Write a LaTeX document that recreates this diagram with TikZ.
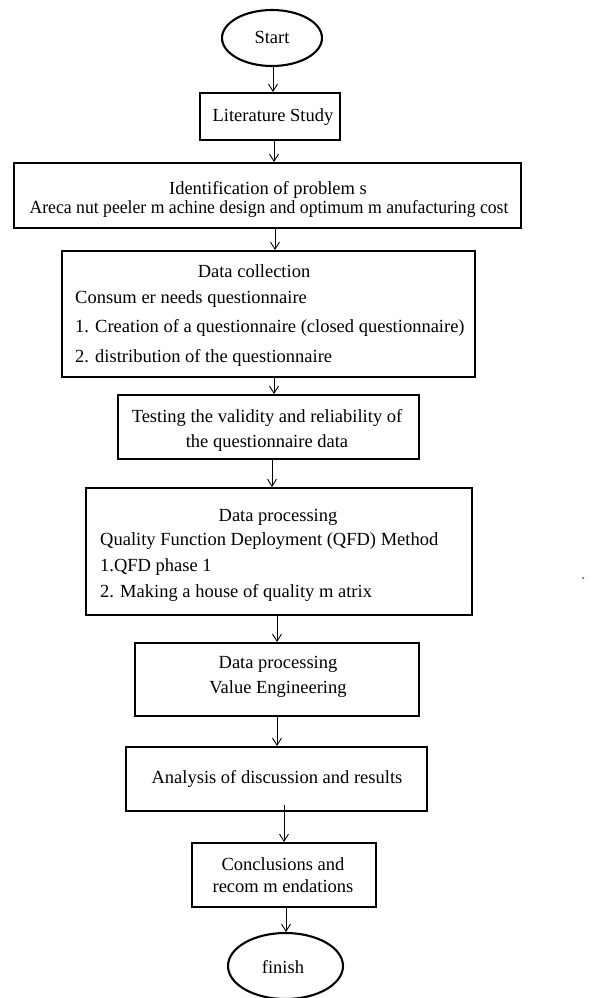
\documentclass[tikz,border=0pt]{standalone}
\usepackage{fontspec}
\setmainfont{Liberation Serif}
\usetikzlibrary{shapes.geometric,arrows.meta}
\begin{document}
\begin{tikzpicture}[x=1pt,y=-1pt,
  box/.style={draw,line width=2.1pt,inner sep=0pt},
  term/.style={draw,ellipse,line width=2.1pt,inner sep=0pt},
  txt/.style={inner sep=0pt,yshift=-3.5pt,font=\fontsize{18.5}{21}\selectfont},
  arr/.style={line width=0.9pt,-{Straight Barb[length=7pt,width=9pt]}}]
\useasboundingbox (0,0) rectangle (600,998);
% shapes
\node[term,minimum width=100pt,minimum height=56pt] (start) at (272,38) {};
\node[box,minimum width=140pt,minimum height=47pt] (lit) at (270,116.5) {};
\node[box,minimum width=507pt,minimum height=65pt] (ident) at (267.5,195.5) {};
\node[box,minimum width=413pt,minimum height=126pt] (dc) at (268.5,314) {};
\node[box,minimum width=301pt,minimum height=64pt] (test) at (268.5,427) {};
\node[box,minimum width=386pt,minimum height=127pt] (dp) at (279,551.5) {};
\node[box,minimum width=284pt,minimum height=73pt] (ve) at (277,679.5) {};
\node[box,minimum width=301pt,minimum height=64pt] (an) at (276.5,779) {};
\node[box,minimum width=184pt,minimum height=64pt] (con) at (284,875) {};
\node[term,minimum width=115pt,minimum height=66pt] (fin) at (285.5,966) {};
% texts
\node[txt,anchor=mid] (tstart) at (272,38) {Start};
\node[txt,anchor=mid] (tlit) at (273,116) {Literature Study};
\node[txt,anchor=mid] (tid1) at (268,189) {Identification of problem s};
\node[txt,anchor=mid] (tid2) at (269,208) {\scalebox{0.955}[1]{Areca nut peeler m achine design and optimum m anufacturing cost}};
\node[txt,anchor=mid] (tdc1) at (254,272) {Data collection};
\node[txt,anchor=mid west] (tdc2) at (75,298) {Consum er needs questionnaire};
\node[txt,anchor=mid west] (tdc3) at (75,327) {1. Creation of a questionnaire (closed questionnaire)};
\node[txt,anchor=mid west] (tdc4) at (75,357) {2. distribution of the questionnaire};
\node[txt,anchor=mid] (tte1) at (267,417) {Testing the validity and reliability of};
\node[txt,anchor=mid] (tte2) at (267,442) {the questionnaire data};
\node[txt,anchor=mid] (tdp1) at (278,516) {Data processing};
\node[txt,anchor=mid west] (tdp2) at (100,540) {Quality Function Deployment (QFD) Method};
\node[txt,anchor=mid west] (tdp3) at (100,566) {1.QFD phase 1};
\node[txt,anchor=mid west] (tdp4) at (100,592) {2. Making a house of quality m atrix};
\node[txt,anchor=mid] (tve1) at (278,663) {Data processing};
\node[txt,anchor=mid] (tve2) at (278,688) {Value Engineering};
\node[txt,anchor=mid] (tan) at (277,778) {Analysis of discussion and results};
\node[txt,anchor=mid] (tco1) at (283,865) {Conclusions and};
\node[txt,anchor=mid] (tco2) at (283,887) {recom m endations};
\node[txt,anchor=mid] (tfin) at (283,968) {finish};
% arrows
\draw[arr] ([xshift=1pt]start.south) -- ([xshift=3pt]lit.north);
\draw[arr] ([xshift=4pt]lit.south) -- ([xshift=6.5pt]ident.north);
\draw[arr] ([xshift=7.5pt]ident.south) -- ([xshift=6.5pt]dc.north);
\draw[arr] ([xshift=5.5pt]dc.south) -- ([xshift=5.5pt]test.north);
\draw[arr] ([xshift=3.5pt]test.south) -- ([xshift=-7pt]dp.north);
\draw[arr] ([xshift=-2pt]dp.south) -- ([xshift=0pt]ve.north);
\draw[arr] ([xshift=0pt]ve.south) -- ([xshift=0.5pt]an.north);
\draw[arr] ([xshift=7.5pt,yshift=7pt]an.south) -- ([xshift=0pt]con.north);
\draw[arr] ([xshift=2pt]con.south) -- ([xshift=0.5pt]fin.north);
\fill[red] (583,578) circle (1pt);
\end{tikzpicture}
\end{document}
